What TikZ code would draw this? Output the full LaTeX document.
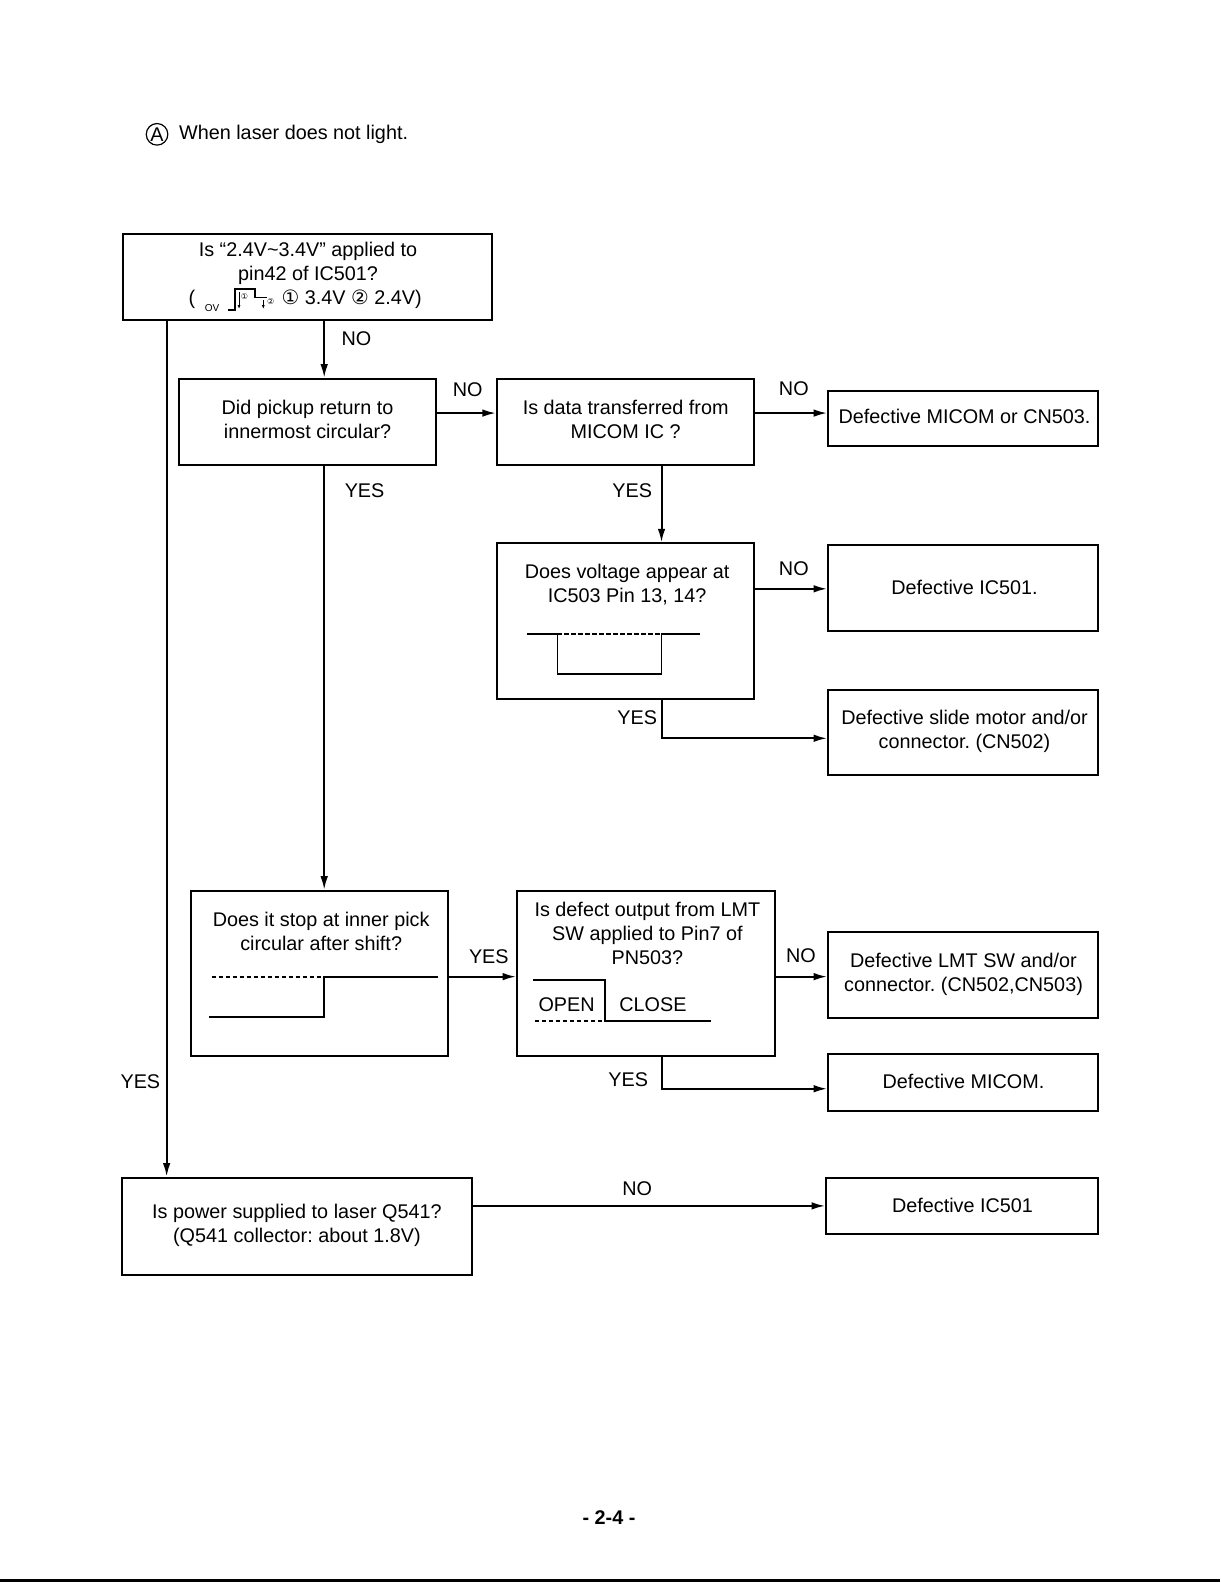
\documentclass[tikz,border=0pt]{standalone}
\usepackage{fontspec}
\setmainfont{Liberation Sans}
\newfontfamily\symfont{DejaVu Sans}
\usetikzlibrary{arrows.meta,fit}
\frenchspacing

\begin{document}
\begin{tikzpicture}[x=0.505pt,y=0.505pt,yscale=-1,
	box/.style={draw,line width=1pt,inner sep=0pt},
	txt/.style={inner sep=0.75pt,align=center,font=\fontsize{9.9}{12}\selectfont},
	wave/.style={line width=0.9pt},
	dots/.style={line width=0.9pt,dash pattern={on 2.2pt off 1.3pt}},
	link/.style={line width=1pt,-{Latex[length=6.8pt,width=3.8pt]}}]
	\useasboundingbox (0,0) rectangle (1208,1567.4);
	
	% Text Node
	\draw (155.5,133) node (ta) [circle,draw,line width=0.6pt,minimum size=10.8pt,inner sep=0pt,font=\fontsize{9.9}{12}\selectfont] {A};
	% Text Node
	\draw (175.5,133) node (tb) [txt,anchor=west] {When laser does not light.};
	
	%Shape: Rectangle [id:q1]
	\node (q1) [box,fit={(122,232) (487,317)}] {};
	\draw (305,260.5) node (t1) [txt] {Is “2.4V\textasciitilde3.4V” applied to\\pin42 of IC501?};
	\draw (190,296) node (t1a) [txt] {(};
	\draw (210,305) node (t1b) [inner sep=0pt,font=\fontsize{5}{6}\selectfont] {OV};
	\draw [wave,line width=0.7pt] (226,307) -- (232.6,307) -- (232.6,286) -- (252.5,286) -- (252.5,294.7) -- (264,294.7) ;
	\draw [line width=0.4pt,-{Latex[length=2pt,width=1.5pt]}] (236.7,289) -- (236.7,306) ;
	\draw [line width=0.4pt,-{Latex[length=2pt,width=1.5pt]}] (260.7,297) -- (260.7,306) ;
	\draw (242,294) node (t1c) [inner sep=0pt,font=\symfont\fontsize{4}{5}\selectfont] {①};
	\draw (268,299) node (t1d) [inner sep=0pt,font=\symfont\fontsize{4}{5}\selectfont] {②};
	\draw (277,296) node (t1e) [txt,anchor=west] {{\symfont ①} 3.4V {\symfont ②} 2.4V)};
	
	%Shape: Rectangle [id:q2]
	\node (q2) [box,fit={(177,375) (432,460)}] {};
	\draw (304.5,415) node (t2) [txt] {Did pickup return to\\innermost circular?};
	%Shape: Rectangle [id:q3]
	\node (q3) [box,fit={(492,375) (747,460)}] {};
	\draw (619.5,415) node (t3) [txt] {Is data transferred from\\MICOM IC ?};
	%Shape: Rectangle [id:d1]
	\node (d1) [box,fit={(820,387) (1087,442)}] {};
	\draw (955,412) node (s1) [txt] {Defective MICOM or CN503.};
	
	%Shape: Rectangle [id:q4]
	\node (q4) [box,fit={(492,538) (747,692)}] {};
	\draw (621,578.5) node (t4) [txt] {Does voltage appear at\\IC503 Pin 13, 14?};
	\draw [wave] (522,628) -- (552,628) -- (552,667) -- (655,667) -- (655,628) -- (693,628) ;
	\draw [dots] (552,628) -- (655,628) ;
	%Shape: Rectangle [id:d2]
	\node (d2) [box,fit={(820,540) (1087,625)}] {};
	\draw (955,582) node (s2) [txt] {Defective IC501.};
	%Shape: Rectangle [id:d3]
	\node (d3) [box,fit={(820,683) (1087,767)}] {};
	\draw (955,724) node (s3) [txt] {Defective slide motor and/or\\connector. (CN502)};
	
	%Shape: Rectangle [id:q5]
	\node (q5) [box,fit={(189,882) (444,1046)}] {};
	\draw (318,922) node (t5) [txt] {Does it stop at inner pick\\circular after shift?};
	\draw [dots] (209.6,967) -- (321,967) ;
	\draw [wave] (207,1006.6) -- (321,1006.6) -- (321,967) -- (434,967) ;
	
	%Shape: Rectangle [id:q6]
	\node (q6) [box,fit={(512,882) (767,1046)}] {};
	\draw (641,924) node (t6) [txt] {Is defect output from LMT\\SW applied to Pin7 of\\PN503?};
	\draw [wave] (527.4,970) -- (599,970) -- (599,1010.6) -- (703.7,1010.6) ;
	\draw [dots] (529.7,1010.6) -- (599,1010.6) ;
	\draw (561,995) node (t6a) [txt] {OPEN};
	\draw (646.5,995) node (t6b) [txt] {CLOSE};
	%Shape: Rectangle [id:d4]
	\node (d4) [box,fit={(820,923) (1087,1008)}] {};
	\draw (954,964.5) node (s4) [txt] {Defective LMT SW and/or\\connector. (CN502,CN503)};
	%Shape: Rectangle [id:d5]
	\node (d5) [box,fit={(820,1044) (1087,1100)}] {};
	\draw (954,1071) node (s5) [txt] {Defective MICOM.};
	
	%Shape: Rectangle [id:q7]
	\node (q7) [box,fit={(121,1166) (467,1262)}] {};
	\draw (294,1213) node (t7) [txt] {Is power supplied to laser Q541?\\(Q541 collector: about 1.8V)};
	%Shape: Rectangle [id:d6]
	\node (d6) [box,fit={(818,1166) (1087,1222)}] {};
	\draw (953,1194) node (s6) [txt] {Defective IC501};
	
	% connector lanes
	\coordinate (v1) at (321,0);
	\coordinate (v2) at (165,0);
	\coordinate (v3) at (655,0);
	\coordinate (h1) at (0,409);
	\coordinate (h2) at (0,583);
	\coordinate (h3) at (0,731);
	\coordinate (h4) at (0,967);
	\coordinate (h5) at (0,1078);
	\coordinate (h6) at (0,1194);
	
	%Straight Lines
	\draw [link] (q1.south -| v1) -- (q2.north -| v1) ;
	\draw [link] (q1.south -| v2) -- (q7.north -| v2) ;
	\draw [link] (q2.east |- h1) -- (q3.west |- h1) ;
	\draw [link] (q3.east |- h1) -- (d1.west |- h1) ;
	\draw [link] (q3.south -| v3) -- (q4.north -| v3) ;
	\draw [link] (q2.south -| v1) -- (q5.north -| v1) ;
	\draw [link] (q4.east |- h2) -- (d2.west |- h2) ;
	\draw [link] (q4.south -| v3) |- (d3.west |- h3) ;
	\draw [link] (q5.east |- h4) -- (q6.west |- h4) ;
	\draw [link] (q6.east |- h4) -- (d4.west |- h4) ;
	\draw [link] (q6.south -| v3) |- (d5.west |- h5) ;
	\draw [link] (q7.east |- h6) -- (d6.west |- h6) ;
	
	% Text Node
	\draw (353,335) node (n1) [txt] {NO};
	\draw (139,1071) node (y1) [txt] {YES};
	\draw (463,386) node (n2) [txt] {NO};
	\draw (786,385) node (n3) [txt] {NO};
	\draw (626,486) node (y2) [txt] {YES};
	\draw (361,486) node (y3) [txt] {YES};
	\draw (786,563) node (n4) [txt] {NO};
	\draw (631,711) node (y4) [txt] {YES};
	\draw (484,947) node (y5) [txt] {YES};
	\draw (793,946) node (n5) [txt] {NO};
	\draw (622,1069) node (y6) [txt] {YES};
	\draw (631,1177) node (n6) [txt] {NO};
	
	% Text Node
	\draw (603,1503) node (pg) [txt,font=\bfseries\fontsize{9.9}{12}\selectfont] {- 2-4 -};
	\draw [line width=1.2pt] (0,1565) -- (1208,1565) ;
	
\end{tikzpicture}
\end{document}
